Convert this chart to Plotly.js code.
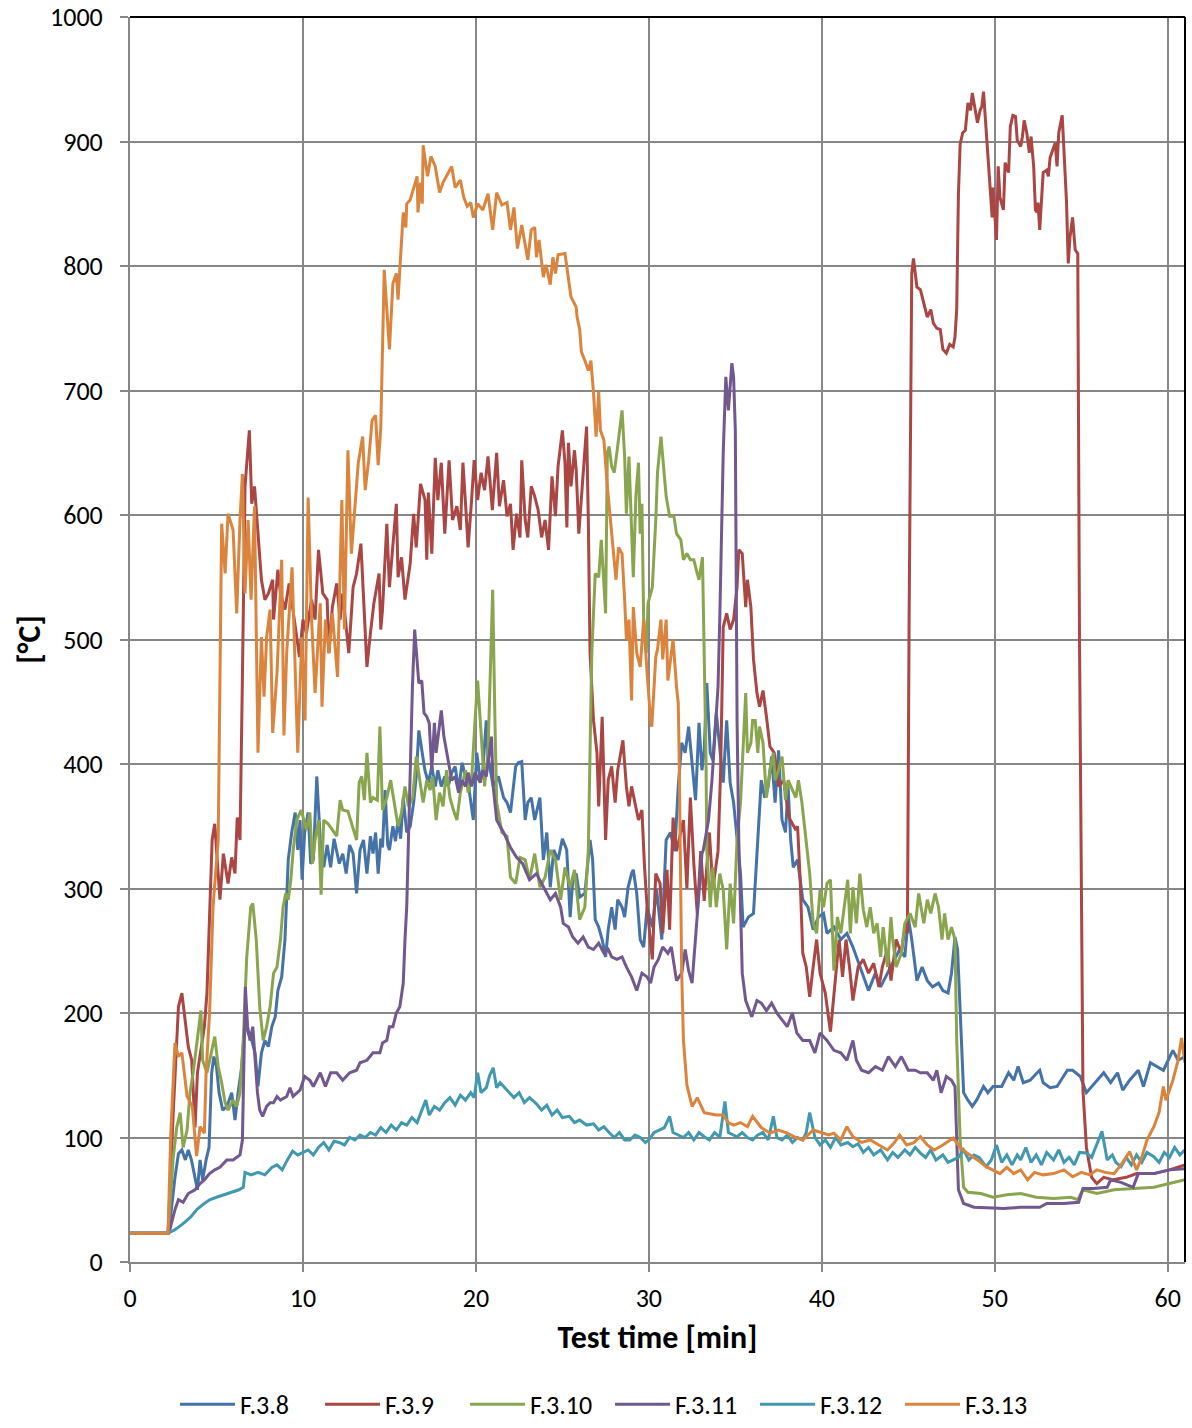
<!DOCTYPE html>
<html><head><meta charset="utf-8">
<script src="https://cdn.plot.ly/plotly-3.0.1.min.js"></script>
<style>html,body{margin:0;padding:0;background:#fff}#chart{width:1192px;height:1428px}</style>
</head><body><div id="chart"></div>
<script>
var seriesNames = ['F.3.8','F.3.9','F.3.10','F.3.11','F.3.12','F.3.13'];
var seriesColors = ['#4572A7','#AA4643','#89A54E','#71588F','#4198AF','#DB843D'];
var xTicks = [0,10,20,30,40,50,60];
var yTicks = [0,100,200,300,400,500,600,700,800,900,1000];

var f38 = [[0,23],[2.2,23],[2.3,31],[2.6,68],[2.8,87],[3.0,90],[3.2,82],[3.37,90],[3.55,82],[3.76,66],[3.9,58],[4.05,82],[4.2,66],[4.4,82],[4.57,92],[4.72,152],[4.85,165],[5.0,157],[5.15,136],[5.36,122],[5.6,125],[5.88,136],[6.07,114],[6.25,136],[6.46,157],[6.65,194],[6.83,184],[7.04,178],[7.23,168],[7.4,141],[7.6,168],[7.8,178],[8.0,173],[8.2,189],[8.4,197],[8.55,218],[8.77,229],[8.96,259],[9.06,301],[9.15,323],[9.35,345],[9.55,361],[9.7,331],[9.83,355],[9.95,307],[10.1,345],[10.3,361],[10.45,320],[10.6,323],[10.8,390],[11.0,339],[11.2,317],[11.4,335],[11.6,317],[11.8,340],[11.95,331],[12.1,320],[12.3,328],[12.5,312],[12.7,335],[12.9,328],[13.1,296],[13.3,331],[13.5,339],[13.7,312],[13.9,342],[14.05,328],[14.2,345],[14.35,312],[14.5,340],[14.6,333],[14.75,379],[14.9,335],[15.0,331],[15.2,350],[15.35,338],[15.5,355],[15.65,340],[15.8,373],[16.0,345],[16.2,350],[16.4,369],[16.55,390],[16.7,427],[16.9,409],[17.05,395],[17.25,385],[17.45,398],[17.65,382],[17.8,395],[18.0,382],[18.2,390],[18.4,382],[18.6,393],[18.8,398],[19.0,379],[19.2,401],[19.4,390],[19.55,385],[19.7,369],[19.85,355],[20.05,409],[20.25,387],[20.4,395],[20.6,435],[20.7,406],[21.0,382],[21.3,390],[21.6,373],[21.8,369],[22.0,361],[22.3,398],[22.45,401],[22.65,402],[22.85,355],[23.0,369],[23.2,373],[23.4,355],[23.7,373],[23.9,323],[24.1,345],[24.3,301],[24.5,331],[24.75,323],[25.0,340],[25.25,331],[25.45,277],[25.6,307],[25.8,312],[26.0,293],[26.3,296],[26.6,339],[26.75,323],[26.9,275],[27.1,269],[27.3,259],[27.5,245],[27.65,267],[27.85,285],[28.05,267],[28.2,291],[28.45,285],[28.6,277],[28.8,301],[29.0,312],[29.1,315],[29.3,296],[29.5,259],[29.7,253],[29.9,285],[30.2,269],[30.45,299],[30.75,259],[31.0,339],[31.25,345],[31.5,330],[31.7,382],[31.9,417],[32.1,409],[32.3,430],[32.45,409],[32.7,371],[32.9,433],[33.07,395],[33.2,411],[33.35,465],[33.55,409],[33.7,403],[33.9,441],[34.1,411],[34.3,385],[34.5,435],[34.7,385],[34.9,369],[35.1,340],[35.3,312],[35.45,269],[35.75,277],[36.05,280],[36.25,328],[36.4,361],[36.5,387],[36.7,373],[36.9,382],[37.1,406],[37.3,369],[37.5,411],[37.7,355],[37.9,345],[38.05,382],[38.2,339],[38.35,317],[38.6,323],[38.9,291],[39.2,285],[39.5,267],[39.8,277],[40.1,280],[40.3,264],[40.7,269],[41.1,259],[41.45,264],[41.8,253],[42.2,237],[42.7,218],[43.1,232],[43.4,221],[43.8,232],[44.1,240],[44.5,251],[44.8,245],[45.0,277],[45.2,259],[45.5,226],[45.8,237],[46.1,226],[46.4,221],[46.75,224],[47.0,218],[47.3,216],[47.5,232],[47.7,261],[47.85,251],[48.0,205],[48.2,136],[48.45,130],[48.7,125],[48.95,130],[49.35,141],[49.6,136],[49.9,141],[50.4,141],[50.8,152],[51.1,146],[51.35,157],[51.65,144],[52.05,146],[52.45,152],[52.6,154],[52.8,144],[53.2,140],[53.6,141],[54.2,154],[54.5,154],[54.95,149],[55.3,136],[55.6,141],[55.9,146],[56.3,152],[56.7,144],[57.1,152],[57.4,138],[57.8,146],[58.3,154],[58.6,141],[59.0,160],[59.4,157],[59.75,154],[60.3,170],[60.6,162],[61,165]];

var f39 = [[0,23],[2.2,23],[2.5,120],[2.8,205],[3.0,216],[3.2,192],[3.37,173],[3.57,162],[3.76,108],[3.9,152],[4.15,173],[4.3,189],[4.45,216],[4.6,285],[4.75,339],[4.9,352],[5.05,320],[5.2,291],[5.4,328],[5.55,315],[5.67,304],[5.88,325],[6.07,312],[6.2,357],[6.36,339],[6.5,470],[6.65,623],[6.9,668],[7.04,609],[7.2,623],[7.4,585],[7.6,548],[7.8,532],[8.0,537],[8.25,548],[8.3,516],[8.55,556],[8.7,537],[8.96,524],[9.2,545],[9.4,526],[9.6,505],[9.8,486],[10.0,516],[10.2,505],[10.5,532],[10.7,516],[10.9,572],[11.15,537],[11.4,532],[11.5,489],[11.7,526],[11.95,545],[12.15,516],[12.3,537],[12.5,510],[12.65,489],[12.9,542],[13.1,553],[13.35,577],[13.5,529],[13.7,478],[13.9,505],[14.1,529],[14.4,553],[14.5,508],[14.6,524],[14.85,593],[15.0,542],[15.2,574],[15.4,609],[15.5,550],[15.7,566],[15.9,532],[16.2,561],[16.4,601],[16.55,574],[16.8,625],[17.06,612],[17.16,564],[17.25,618],[17.45,569],[17.65,646],[17.8,612],[18.0,642],[18.2,585],[18.45,644],[18.65,596],[18.9,607],[19.1,588],[19.25,642],[19.4,609],[19.55,574],[19.75,612],[19.9,644],[20.1,612],[20.3,634],[20.5,620],[20.7,647],[20.95,604],[21.2,650],[21.36,607],[21.6,628],[21.8,599],[22.0,609],[22.15,572],[22.35,601],[22.55,582],[22.65,644],[22.85,596],[23.0,582],[23.2,623],[23.4,615],[23.6,604],[23.8,582],[24.0,596],[24.2,572],[24.4,631],[24.6,599],[24.75,639],[25.0,668],[25.15,642],[25.26,590],[25.35,658],[25.5,623],[25.7,652],[25.8,636],[25.95,585],[26.1,615],[26.25,644],[26.4,671],[26.5,596],[26.6,489],[26.8,435],[27.0,409],[27.1,366],[27.3,438],[27.5,339],[27.65,387],[27.85,398],[28.05,369],[28.2,395],[28.5,419],[28.7,382],[28.85,366],[29.0,382],[29.2,369],[29.4,355],[29.6,363],[29.75,317],[29.9,285],[30.2,243],[30.4,312],[30.65,304],[30.8,264],[31.05,315],[31.2,267],[31.4,357],[31.6,330],[32.0,355],[32.2,300],[32.4,373],[32.6,320],[32.8,280],[33.0,330],[33.2,290],[33.5,345],[33.7,300],[34.0,330],[34.15,395],[34.3,510],[34.5,521],[34.7,508],[34.9,516],[35.1,542],[35.2,572],[35.4,569],[35.6,526],[35.7,548],[35.9,526],[36.05,484],[36.25,457],[36.4,446],[36.6,459],[36.8,438],[37.0,414],[37.25,409],[37.5,382],[37.8,387],[38.1,357],[38.5,347],[38.6,350],[38.75,307],[38.9,248],[39.1,237],[39.3,213],[39.5,237],[39.7,259],[39.9,232],[40.2,216],[40.5,185],[40.8,226],[41.0,259],[41.2,229],[41.4,259],[41.6,237],[41.8,210],[42.1,237],[42.4,243],[42.7,232],[43.0,240],[43.3,221],[43.5,237],[43.8,251],[44.0,226],[44.3,259],[44.6,248],[44.8,269],[44.95,264],[45.05,520],[45.2,794],[45.3,806],[45.5,783],[45.7,781],[45.9,770],[46.1,759],[46.3,765],[46.45,754],[46.65,750],[46.85,749],[47.0,733],[47.2,730],[47.4,737],[47.6,735],[47.7,743],[47.8,765],[47.9,858],[48.0,898],[48.15,907],[48.3,909],[48.45,931],[48.6,925],[48.7,939],[48.9,925],[49.0,915],[49.15,925],[49.25,928],[49.35,940],[49.45,920],[49.55,893],[49.7,863],[49.85,839],[49.9,863],[50.1,821],[50.2,880],[50.3,855],[50.5,845],[50.6,883],[50.8,875],[50.9,912],[51.05,921],[51.2,920],[51.3,901],[51.5,896],[51.6,904],[51.7,917],[51.85,907],[52.0,891],[52.1,904],[52.25,880],[52.35,845],[52.45,843],[52.5,851],[52.6,829],[52.8,875],[53.0,877],[53.1,872],[53.2,887],[53.35,893],[53.5,899],[53.6,880],[53.7,907],[53.9,921],[54.0,891],[54.15,851],[54.25,802],[54.35,823],[54.5,839],[54.65,813],[54.8,810],[54.9,500],[55.1,138],[55.3,92],[55.6,68],[55.9,63],[56.3,68],[56.85,66],[57.6,68],[58.2,71],[59.2,71],[60.1,74],[61,78]];

var f310 = [[0,23],[2.2,23],[2.5,84],[2.7,108],[2.9,120],[3.07,92],[3.3,106],[3.47,136],[3.65,152],[3.9,178],[4.1,202],[4.2,162],[4.45,152],[4.7,168],[4.9,181],[5.1,157],[5.3,144],[5.5,128],[5.67,122],[5.96,130],[6.17,125],[6.36,136],[6.55,178],[6.75,245],[6.98,285],[7.1,288],[7.3,259],[7.5,205],[7.7,178],[7.9,189],[8.1,205],[8.3,232],[8.5,237],[8.7,259],[8.85,285],[9.0,296],[9.15,291],[9.3,307],[9.43,330],[9.64,355],[9.9,363],[10.2,347],[10.4,361],[10.55,320],[10.7,339],[10.9,355],[11.05,295],[11.2,355],[11.45,352],[11.7,347],[11.95,342],[12.15,371],[12.3,363],[12.6,362],[12.9,347],[13.1,339],[13.25,385],[13.4,390],[13.55,371],[13.7,409],[13.9,369],[14.05,373],[14.3,371],[14.45,430],[14.6,363],[14.85,373],[15.07,387],[15.27,369],[15.5,350],[15.7,361],[15.9,382],[16.1,366],[16.35,373],[16.55,406],[16.7,393],[16.95,369],[17.16,387],[17.35,379],[17.5,390],[17.7,355],[17.9,377],[18.1,366],[18.3,395],[18.5,373],[18.7,363],[18.9,355],[19.1,377],[19.4,395],[19.55,377],[19.75,387],[19.95,435],[20.1,467],[20.3,425],[20.5,382],[20.7,409],[20.86,489],[20.97,540],[21.1,435],[21.2,369],[21.5,345],[21.8,342],[22.0,309],[22.3,304],[22.55,325],[22.85,323],[23.1,307],[23.4,328],[23.7,301],[24.0,309],[24.3,331],[24.6,323],[24.9,291],[25.15,317],[25.45,301],[25.7,315],[26.0,275],[26.3,285],[26.5,331],[26.7,489],[26.9,553],[27.1,550],[27.25,580],[27.35,553],[27.5,521],[27.6,650],[27.7,655],[27.85,639],[28.0,634],[28.15,650],[28.3,666],[28.45,684],[28.6,647],[28.7,601],[28.85,647],[29.0,590],[29.1,550],[29.25,615],[29.4,642],[29.5,585],[29.6,609],[29.7,516],[29.85,489],[29.95,529],[30.2,542],[30.4,596],[30.5,634],[30.7,663],[30.9,630],[31.0,615],[31.2,599],[31.45,599],[31.6,585],[31.85,580],[32.0,564],[32.2,569],[32.4,564],[32.6,564],[32.8,553],[32.9,548],[33.1,566],[33.2,489],[33.3,409],[33.35,331],[33.55,285],[33.7,317],[33.9,285],[34.1,312],[34.3,299],[34.5,251],[34.7,304],[34.9,272],[35.1,339],[35.3,369],[35.45,409],[35.6,457],[35.7,409],[35.9,417],[36.0,435],[36.15,435],[36.3,409],[36.4,430],[36.6,417],[36.8,373],[37.0,395],[37.2,409],[37.3,387],[37.5,395],[37.7,406],[37.9,371],[38.05,387],[38.3,379],[38.5,373],[38.65,387],[38.85,369],[39.0,350],[39.15,330],[39.3,312],[39.5,272],[39.7,264],[39.9,299],[40.1,285],[40.3,304],[40.5,307],[40.7,234],[40.9,277],[41.1,264],[41.3,285],[41.5,307],[41.65,264],[41.8,301],[42.0,272],[42.2,312],[42.4,283],[42.6,269],[42.8,285],[43.0,264],[43.2,272],[43.4,245],[43.55,269],[43.8,237],[44.0,277],[44.1,259],[44.3,237],[44.6,248],[44.8,272],[45.1,280],[45.4,269],[45.6,296],[45.9,272],[46.1,291],[46.3,280],[46.55,296],[46.75,285],[46.95,259],[47.1,280],[47.3,259],[47.5,269],[47.7,259],[47.8,178],[48.0,98],[48.2,60],[48.45,56],[49.2,55],[49.9,52],[50.7,54],[51.5,55],[52.4,52],[53.4,51],[54.4,52],[54.8,50],[55.1,58],[55.9,55],[56.9,58],[58.2,59],[59.2,60],[60.1,63],[61,66]];

var f311 = [[0,23],[2.2,23],[2.3,26],[2.6,42],[2.8,50],[3.07,48],[3.37,55],[3.76,58],[4.05,63],[4.3,66],[4.6,71],[4.9,74],[5.2,76],[5.6,82],[5.96,82],[6.36,86],[6.5,98],[6.6,178],[6.67,221],[6.8,189],[6.94,178],[7.1,189],[7.23,165],[7.37,136],[7.5,122],[7.67,117],[7.9,125],[8.1,128],[8.3,128],[8.5,133],[8.7,130],[9.06,133],[9.25,140],[9.43,133],[9.83,138],[10.1,149],[10.4,146],[10.6,141],[11.0,152],[11.3,141],[11.6,152],[11.95,152],[12.3,146],[12.7,152],[13.1,154],[13.3,160],[13.7,162],[14.05,168],[14.45,168],[14.6,176],[14.85,178],[15.0,189],[15.2,189],[15.4,200],[15.6,205],[15.8,224],[15.9,259],[16.0,285],[16.1,339],[16.2,400],[16.33,462],[16.46,508],[16.58,484],[16.7,465],[16.87,467],[17.0,441],[17.16,438],[17.3,433],[17.45,395],[17.6,433],[17.7,409],[17.9,435],[18.0,443],[18.15,422],[18.3,411],[18.45,398],[18.6,387],[18.8,390],[19.0,377],[19.2,387],[19.4,382],[19.55,393],[19.75,382],[19.95,393],[20.25,385],[20.4,395],[20.6,390],[20.9,422],[21.0,382],[21.2,355],[21.4,350],[21.6,345],[22.0,333],[22.35,325],[22.7,320],[23.1,307],[23.5,312],[23.9,301],[24.3,291],[24.6,296],[24.9,285],[25.05,272],[25.35,269],[25.6,261],[25.9,256],[26.2,261],[26.5,253],[26.8,251],[27.1,256],[27.4,248],[27.65,251],[27.85,245],[28.15,243],[28.45,245],[28.7,237],[29.0,229],[29.3,218],[29.6,232],[29.9,229],[30.1,224],[30.3,237],[30.55,243],[30.8,253],[31.1,248],[31.3,253],[31.6,226],[31.9,232],[32.1,251],[32.3,234],[32.5,224],[32.7,259],[32.9,299],[33.07,328],[33.15,331],[33.45,355],[33.65,387],[33.85,427],[34.0,462],[34.1,516],[34.2,596],[34.3,650],[34.45,711],[34.6,684],[34.8,722],[34.9,711],[35.0,668],[35.05,569],[35.1,435],[35.2,339],[35.3,285],[35.4,232],[35.6,210],[35.75,205],[35.95,197],[36.25,210],[36.5,208],[36.8,202],[37.1,208],[37.4,200],[37.7,194],[38.0,189],[38.3,200],[38.55,184],[38.9,178],[39.3,178],[39.6,168],[39.9,184],[40.3,178],[40.7,170],[41.1,168],[41.45,162],[41.8,178],[42.0,162],[42.3,154],[42.7,152],[43.1,157],[43.5,154],[43.85,165],[44.25,157],[44.6,165],[45.0,154],[45.4,154],[45.7,152],[46.1,152],[46.45,146],[46.65,154],[46.9,136],[47.2,149],[47.5,146],[47.7,141],[47.8,98],[47.9,58],[48.2,47],[48.8,44],[49.55,43.5],[50.5,43],[51.5,44],[52.6,44],[53.0,47],[54.0,47],[54.85,48],[55.1,59],[55.7,59],[56.5,60],[56.7,66],[57.3,64],[58.0,60],[58.3,71],[59.2,71],[60.1,74],[61,75]];

var f312 = [[0,23],[2.2,23],[2.6,26],[3.0,30],[3.5,36],[3.85,42],[4.2,46],[4.6,50],[5.0,52],[5.4,54],[5.8,56],[6.3,58],[6.55,60],[6.65,72],[7.0,70],[7.4,72],[7.8,70],[8.2,76],[8.5,78],[8.8,74],[9.1,82],[9.4,89],[9.7,86],[10.0,88],[10.3,90],[10.6,86],[10.9,92],[11.2,96],[11.5,90],[11.8,97],[12.1,96],[12.4,94],[12.7,100],[13.0,98],[13.3,102],[13.6,100],[13.9,104],[14.2,102],[14.5,108],[14.8,104],[15.1,110],[15.4,106],[15.7,112],[16.0,110],[16.3,116],[16.6,112],[16.9,122],[17.1,130],[17.3,118],[17.6,125],[17.9,122],[18.2,128],[18.5,132],[18.8,126],[19.1,134],[19.4,130],[19.7,136],[19.9,132],[20.1,152],[20.3,136],[20.6,140],[20.8,150],[21.0,156],[21.2,140],[21.4,144],[21.6,141],[21.9,136],[22.2,132],[22.5,136],[22.8,128],[23.1,132],[23.5,127],[23.8,122],[24.1,126],[24.4,118],[24.7,122],[25.0,116],[25.4,117],[25.7,112],[26.0,114],[26.4,110],[26.8,111],[27.1,106],[27.4,108.7],[27.7,104],[28.0,100],[28.3,104],[28.6,98],[28.9,98],[29.2,102],[29.5,100],[29.8,96],[30.0,98],[30.3,104],[30.6,106],[30.9,108],[31.2,117],[31.4,104],[31.7,102],[32.0,100],[32.3,104],[32.6,98],[32.9,104],[33.2,100.6],[33.5,98],[33.8,104],[34.1,100],[34.4,129],[34.6,104],[34.9,102],[35.1,100.6],[35.4,104],[35.7,100],[36.0,98],[36.3,102],[36.6,104],[36.9,98],[37.2,117],[37.4,100],[37.7,98],[38.0,102],[38.3,96],[38.6,100],[38.9,98],[39.1,104],[39.3,120],[39.6,100],[39.9,94],[40.2,98],[40.5,92],[40.8,100],[41.1,94],[41.5,96],[41.8,92.6],[42.1,95],[42.4,88],[42.7,92],[43.0,86],[43.4,90],[43.8,82],[44.1,88],[44.4,84],[44.8,90],[45.1,86],[45.4,92],[45.7,87.5],[46.0,84],[46.3,90],[46.6,82],[47.0,86],[47.3,80],[47.6,82],[47.9,84],[48.2,90],[48.5,82],[48.8,86],[49.1,84],[49.5,76.6],[49.8,82],[50.1,94],[50.4,80],[50.7,86],[51.0,78],[51.3,86],[51.5,82],[51.8,92],[52.1,80],[52.4,86],[52.7,78],[53.0,88],[53.4,82],[53.7,90],[54.0,80],[54.3,84],[54.6,78],[54.9,88],[55.3,87.5],[55.6,84],[55.9,95],[56.2,105],[56.5,82],[56.8,86],[57.0,80],[57.3,76.6],[57.6,84],[57.9,78],[58.2,86],[58.5,80],[58.8,88],[59.2,84.6],[59.5,80],[59.8,88],[60.1,84],[60.4,92],[60.7,86],[61,90]];

var f313 = [[0,23],[2.2,23],[2.35,100],[2.6,176],[2.8,165],[3.0,168],[3.3,133],[3.6,125],[3.85,85],[4.05,108.7],[4.3,103.5],[4.4,152],[4.6,200],[4.8,285],[5.1,339],[5.3,593],[5.5,553],[5.67,601],[5.96,588],[6.17,521],[6.36,596],[6.5,633],[6.65,537],[6.83,596],[7.0,532],[7.2,607],[7.4,409],[7.6,502],[7.75,454],[7.9,502],[8.1,524],[8.25,425],[8.5,473],[8.77,564],[8.9,423],[9.06,489],[9.37,558],[9.55,467],[9.7,409],[9.93,502],[10.12,435],[10.3,614],[10.5,516],[10.7,457],[11.0,529],[11.1,446],[11.3,516],[11.5,489],[11.7,521],[12.0,470],[12.25,612],[12.4,508],[12.6,652],[12.8,569],[13.0,609],[13.2,642],[13.45,663],[13.6,620],[13.8,644],[14.0,676],[14.2,680],[14.35,640],[14.5,670],[14.7,797],[15.0,733],[15.2,786],[15.4,794],[15.5,773],[15.6,797],[15.8,843],[15.95,831],[16.0,850],[16.2,853],[16.4,863],[16.6,872],[16.65,843],[16.8,867],[16.9,850],[16.95,897],[17.2,872],[17.4,888],[17.65,880],[17.9,859],[18.1,867],[18.4,875],[18.6,880],[18.8,863],[19.1,869],[19.3,855],[19.5,848],[19.7,851],[19.85,839],[20.1,850],[20.4,845],[20.7,858],[20.97,829],[21.2,859],[21.5,849],[21.8,851],[22.0,829],[22.2,847],[22.4,814],[22.65,833],[22.85,815],[23.0,805],[23.2,829],[23.4,831],[23.5,807],[23.65,821],[23.9,791],[24.05,801],[24.3,785],[24.45,807],[24.6,794],[24.75,809],[25.15,810],[25.35,791],[25.5,775],[25.8,767],[25.85,759],[26.0,749],[26.1,731],[26.3,724],[26.5,716],[26.65,724],[26.8,698],[26.95,663],[27.1,699],[27.2,668],[27.4,660],[27.6,623],[27.8,593],[27.95,574],[28.1,548],[28.25,574],[28.45,569],[28.6,532],[28.7,500],[28.85,516],[29.0,451],[29.1,526],[29.3,489],[29.5,478],[29.7,516],[29.9,473],[30.1,435],[30.17,430],[30.4,486],[30.5,492],[30.7,516],[30.8,484],[31.0,516],[31.1,467],[31.4,500],[31.6,462],[31.7,449],[31.75,409],[31.8,331],[31.9,232],[32.0,178],[32.2,142],[32.5,125],[32.8,132],[33.2,120],[33.9,118],[34.3,118],[34.6,112],[34.9,110],[35.3,112],[35.7,108.7],[36.0,117],[36.5,108],[37.0,103.5],[37.5,106],[38.0,103.5],[38.5,100],[38.9,98],[39.5,106],[39.9,104],[40.4,102],[40.7,103.5],[41.1,98],[41.45,108.7],[41.8,100.6],[42.3,96],[42.8,98],[43.3,94],[43.8,90],[44.2,96],[44.5,102],[44.9,94],[45.3,95.6],[45.7,100.6],[46.1,94],[46.5,90],[47.0,94],[47.6,99.6],[48.0,92],[48.4,87.5],[49.0,82],[49.5,76.6],[49.9,74],[50.3,71],[50.7,76],[51.1,71],[51.5,74],[51.9,66],[52.3,72],[52.8,70],[53.4,71],[54.0,74],[54.5,68.5],[55.0,72],[55.5,70],[55.9,74],[56.4,72],[56.9,71],[57.3,78],[57.8,88.6],[58.2,74],[58.5,84],[58.8,98],[59.2,108.7],[59.5,120],[59.75,141],[59.9,130],[60.3,146],[60.6,162],[60.8,180],[61,160]];

var allSeries = [f38, f39, f310, f311, f312, f313];
var FONT = 'Carlito, Lato, "Open Sans", sans-serif';

var traces = allSeries.map(function(s, i){
  return {
    type:'scatter', mode:'lines', name:seriesNames[i],
    x:s.map(function(p){return p[0];}),
    y:s.map(function(p){return p[1];}),
    line:{color:seriesColors[i], width:3}
  };
});

var grid = '#878787';
var layout = {
  width:1192, height:1428,
  margin:{l:130, r:7, t:17, b:166, autoexpand:false},
  paper_bgcolor:'#fff', plot_bgcolor:'#fff',
  font:{family:FONT, size:26, color:'#000'},
  xaxis:{
    range:[0,61], tickvals:xTicks, ticktext:xTicks.map(String),
    showgrid:true, gridcolor:grid, gridwidth:2,
    showline:true, linecolor:grid, linewidth:2, zeroline:false,
    ticks:'outside', ticklen:8, tickwidth:2, tickcolor:grid,
    ticklabelstandoff:4,
    tickfont:{family:FONT, size:26},
    title:{text:'<b>Test time [min]</b>', font:{family:FONT, size:32}, standoff:12},
    automargin:false
  },
  yaxis:{
    range:[0,1000], tickvals:yTicks, ticktext:yTicks.map(String),
    showgrid:true, gridcolor:grid, gridwidth:2,
    showline:true, linecolor:grid, linewidth:2, zeroline:false,
    ticks:'outside', ticklen:8, tickwidth:2, tickcolor:grid,
    ticklabelstandoff:12,
    tickfont:{family:FONT, size:26},
    title:{text:'<b>[°C]</b>', font:{family:FONT, size:32}, standoff:0},
    automargin:false
  },
  showlegend:true,
  legend:{orientation:'h', x:0.455, xanchor:'center', y:-0.1333, yanchor:'bottom',
          itemwidth:55, entrywidth:75, entrywidthmode:'pixels',
          font:{family:FONT, size:26}, bgcolor:'rgba(0,0,0,0)'},
  shapes:[
    {type:'line', xref:'paper', yref:'paper', x0:0, x1:1, y0:1, y1:1, line:{color:'#000', width:2}},
    {type:'line', xref:'paper', yref:'paper', x0:1, x1:1, y0:0, y1:1, line:{color:'#000', width:2}}
  ]
};

Plotly.newPlot('chart', traces, layout, {displayModeBar:false, staticPlot:true});
</script></body></html>
